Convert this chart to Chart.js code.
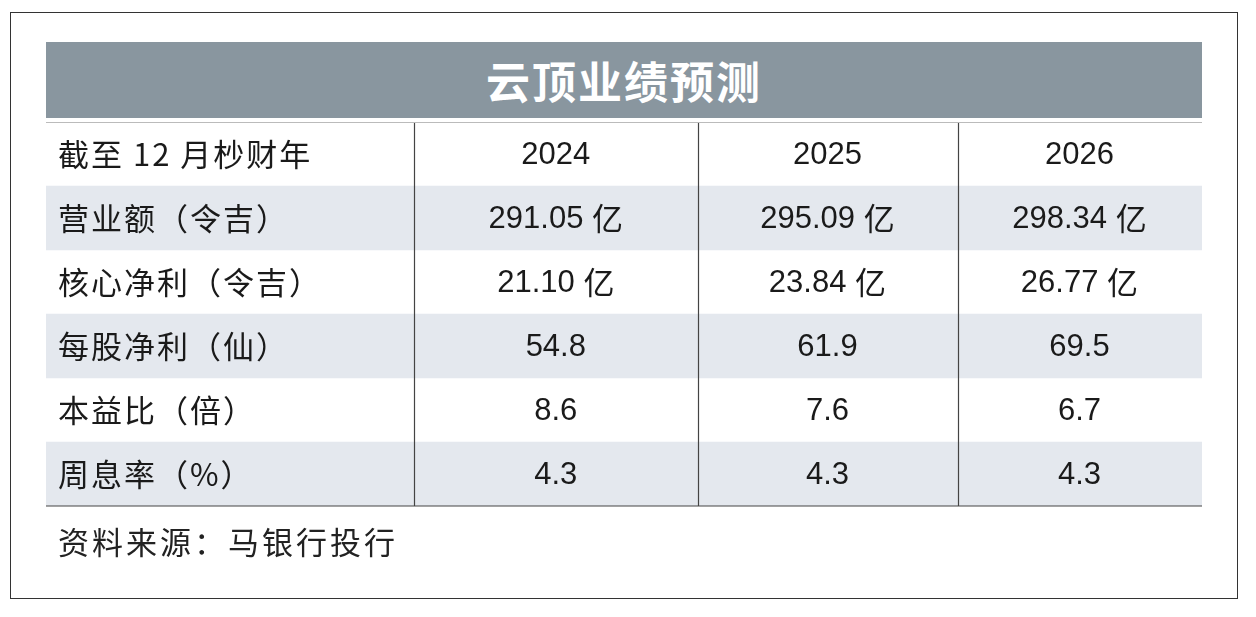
<!DOCTYPE html>
<html><head><meta charset="utf-8">
<script src="https://cdn.jsdelivr.net/npm/chart.js@4/dist/chart.umd.min.js"></script>
<style>
  body { margin:0; width:1256px; height:617px; background:#fff; position:relative; overflow:hidden;
         font-family:"Noto Sans CJK SC", sans-serif; }
  #frame { position:absolute; left:10px; top:12px; width:1228px; height:587px; border:1.5px solid #333; box-sizing:border-box; }
  #title { position:absolute; left:46px; top:42px; width:1156px; height:76px; background:#89969f;
           color:#fff; font-size:44px; font-weight:bold; text-align:center; line-height:76px; letter-spacing:2px; }
  #source { position:absolute; left:58px; top:518px; font-size:31px; color:#222; letter-spacing:3px; }
  #wrap { position:absolute; left:0; top:0; width:1256px; height:617px; }
</style></head>
<body>
<div id="frame"></div>
<div id="title">云顶业绩预测</div>
<div id="wrap"><canvas id="c"></canvas></div>
<div id="source">资料来源：马银行投行</div>
<script>
const rowLabels = ["截至 12 月杪财年", "营业额（令吉）", "核心净利（令吉）", "每股净利（仙）", "本益比（倍）", "周息率（%）"];
const years = ["2024", "2025", "2026"];
const revenue = ["291.05 亿", "295.09 亿", "298.34 亿"];
const coreProfit = ["21.10 亿", "23.84 亿", "26.77 亿"];
const eps = ["54.8", "61.9", "69.5"];
const pe = ["8.6", "7.6", "6.7"];
const yieldPct = ["4.3", "4.3", "4.3"];
const tableRows = [years, revenue, coreProfit, eps, pe, yieldPct];
const shaded = [false, true, false, true, false, true];

// column layout as fractions of table width
const colEdges = [0.318, 0.564, 0.789];
const colCenters = [0.441, 0.676, 0.894];

const tablePlugin = {
  id: "table",
  afterDatasetsDraw(chart) {
    const { ctx, chartArea: a, scales: { x, y } } = chart;
    ctx.save();
    ctx.strokeStyle = "#444";
    ctx.lineWidth = 1.2;
    colEdges.forEach((f) => {
      const px = Math.round(x.getPixelForValue(f)) + 0.5;
      ctx.beginPath(); ctx.moveTo(px, a.top); ctx.lineTo(px, a.bottom); ctx.stroke();
    });
    ctx.beginPath(); ctx.moveTo(a.left, a.bottom); ctx.lineTo(a.right, a.bottom); ctx.stroke();
    ctx.strokeStyle = "#bbb";
    ctx.beginPath(); ctx.moveTo(a.left, a.top + 0.5); ctx.lineTo(a.right, a.top + 0.5); ctx.stroke();
    ctx.fillStyle = "#1a1a1a";
    ctx.textBaseline = "middle";
    rowLabels.forEach((lab, i) => {
      const py = y.getPixelForValue(i);
      ctx.textAlign = "left";
      ctx.font = '31px "Noto Sans CJK SC"';
      ctx.letterSpacing = "2px";
      ctx.fillText(lab, x.getPixelForValue(0.0104), py);
      ctx.letterSpacing = "0px";
      ctx.textAlign = "center";
      tableRows[i].forEach((v, j) => {
        ctx.font = '31px "Liberation Sans", "Noto Sans CJK SC"';
        const parts = v.split(" ");
        const cx = x.getPixelForValue(colCenters[j]);
        if (parts.length > 1) {
          const w1 = ctx.measureText(parts[0] + " ").width;
          ctx.font = '31px "Noto Sans CJK SC"';
          const w2 = ctx.measureText(parts[1]).width;
          const start = cx - (w1 + w2) / 2;
          ctx.textAlign = "left";
          ctx.font = '31px "Liberation Sans"';
          ctx.fillText(parts[0] + " ", start, py + 1);
          ctx.font = '31px "Noto Sans CJK SC"';
          ctx.fillText(parts[1], start + w1, py);
          ctx.textAlign = "center";
        } else {
          ctx.fillText(v, cx, py + 1);
        }
      });
    });
    ctx.restore();
  }
};

new Chart(document.getElementById("c"), {
  type: "bar",
  data: {
    labels: rowLabels,
    datasets: [{
      data: shaded.map((s) => (s ? [0, 1] : null)),
      backgroundColor: "#e4e8ee",
      barPercentage: 1, categoryPercentage: 1, borderWidth: 0,
    }],
  },
  options: {
    indexAxis: "y",
    responsive: true, maintainAspectRatio: false, animation: false,
    layout: { padding: { left: 46, right: 54, top: 122, bottom: 111 } },
    scales: {
      x: { type: "linear", min: 0, max: 1, display: false },
      y: { display: false },
    },
    plugins: { legend: { display: false }, tooltip: { enabled: false } },
  },
  plugins: [tablePlugin],
});
</script>
</body></html>
